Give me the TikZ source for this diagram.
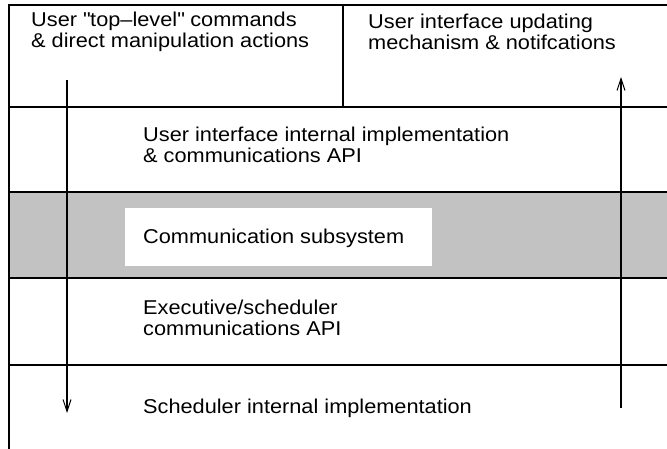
\documentclass[tikz,border=0pt]{standalone}
\usepackage{fontspec}
\setmainfont{Liberation Sans}[FakeStretch=1.087]
\usetikzlibrary{arrows.meta}
\definecolor{bandgray}{HTML}{C2C2C2}
\begin{document}
\begin{tikzpicture}[x=1pt,y=-1pt,
  frame/.style={line width=1.5pt},
  lbl/.style={anchor=west,align=left,inner sep=0pt,font=\fontsize{20}{20.5}\selectfont},
  flow/.style={line width=1.1pt,-{Straight Barb[length=12pt,width=8pt,line width=1pt]}}]
\useasboundingbox (0,0) rectangle (667,449);
% gray band
\fill[bandgray] (9,192) rectangle (667,278);
\fill[white] (125,208) rectangle (432,266);
% frame lines
\draw[frame] (9,449) -- (9,5) -- (667,5);
\draw[frame] (343,5) -- (343,107);
\draw[frame] (9,107) -- (667,107);
\draw[frame] (9,192) -- (667,192);
\draw[frame] (9,278) -- (667,278);
\draw[frame] (9,365) -- (667,365);
% texts
\node[lbl] (t1) at (31,32) {User \textquotedbl top\textendash level\textquotedbl{} commands\\\& direct manipulation actions};
\node[lbl] (t2) at (368,32) {User interface updating\\mechanism \& notifcations};
\node[lbl] (t3) at (143,145) {User interface internal implementation\\\& communications API};
\node[lbl] (t4) at (143,238) {Communication subsystem};
\node[lbl] (t5) at (143,318) {Executive/scheduler\\communications API};
\node[lbl] (t6) at (143,408) {Scheduler internal implementation};
% arrows
\coordinate (dstart) at (67,80);
\coordinate (dend) at (67,413);
\coordinate (ustart) at (621,408);
\coordinate (uend) at (621,77);
\draw[flow] (dstart) -- (dend);
\draw[flow] (ustart) -- (uend);
\end{tikzpicture}
\end{document}
